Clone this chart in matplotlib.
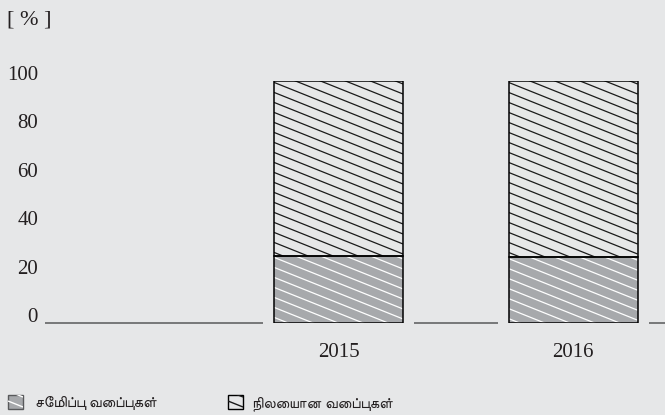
import matplotlib
matplotlib.use('Agg')
import matplotlib.pyplot as plt
from matplotlib import font_manager
from matplotlib.patches import Rectangle
from matplotlib.lines import Line2D
from matplotlib.transforms import Affine2D, blended_transform_factory, offset_copy
import numpy as np

# ---------------- data ----------------
years = ['2015', '2016']
savings_deposits = [27.7, 27.2]
fixed_deposits = [72.3, 72.8]
ytick_values = [0, 20, 40, 60, 80, 100]
legend_labels = ['சேமிப்பு வைப்புகள்', 'நிலையான வைப்புகள்']
unit_label = '[ % ]'

# ---------------- fonts ----------------
def find_font_for(ch):
    try:
        from fontTools.ttLib import TTFont
    except Exception:
        return None
    cands = []
    for fe in font_manager.fontManager.ttflist:
        try:
            f = TTFont(fe.fname, fontNumber=0, lazy=True)
            cmap = f.getBestCmap()
            if cmap and ord(ch) in cmap:
                cands.append(fe.name)
        except Exception:
            pass
    if not cands:
        return None
    cands.sort(key=lambda n: (0 if 'Sans' in n else 1, n))
    return cands[0]

tamil_font = find_font_for('ச')
tamil_family = [tamil_font, 'DejaVu Sans'] if tamil_font else ['DejaVu Sans']
serif = ['Liberation Serif', 'DejaVu Serif']

# ---------------- figure ----------------
W, H = 665, 415
BG = '#e6e7e8'
GRAY = '#a7a9ac'
TXT = '#231f20'
fig = plt.figure(figsize=(W / 100, H / 100), dpi=100)
fig.patch.set_facecolor(BG)

ax_left, ax_right, y_zero, y_hundred = 45, 665, 323, 81
ax = fig.add_axes([ax_left / W, (H - y_zero) / H, (ax_right - ax_left) / W,
                   (y_zero - y_hundred) / H])
ax.set_facecolor(BG)
ax.autoscale(False)
xpos = np.arange(len(years))
bar_w = 0.55
ax.set_xlim(-1.2516, 1.392)
ax.set_ylim(0, 100)
for s in ax.spines.values():
    s.set_visible(False)
ax.set_xticks([])
ax.set_yticks([])

# pixel (from top-left) transform
PX = Affine2D().scale(1 / W, -1 / H).translate(0, 1) + fig.transFigure


def to_px(xd, yd):
    d = ax.transData.transform((xd, yd))
    return d[0], H - d[1]


def hatch_px(left, top, right, bottom, color, lw, clip, dx=25.0, dy=10.0, phase=0.0, host=None):
    slope = dy / dx
    c = top - slope * (right - left) + phase
    while c < bottom + dy:
        ln = Line2D([left, right], [c, c + slope * (right - left)], transform=PX,
                    color=color, lw=lw, solid_capstyle='butt', zorder=2)
        if host is None:
            ax.add_line(ln)
        else:
            host.add_artist(ln)
        ln.set_clip_path(clip)
        c += dy


b_low = ax.bar(xpos, savings_deposits, bar_w, color=GRAY, linewidth=0, zorder=1)
b_up = ax.bar(xpos, fixed_deposits, bar_w, bottom=savings_deposits, color=BG, linewidth=0, zorder=1)

for rects, col in ((b_low, 'white'), (b_up, '#1a1a1a')):
    for r in rects:
        l, t = to_px(r.get_x(), r.get_y() + r.get_height())
        rr, b = to_px(r.get_x() + r.get_width(), r.get_y())
        hatch_px(l, t, rr, b, col, 0.9, r, phase=3)

ax.bar(xpos, savings_deposits, bar_w, fill=False, edgecolor='black', linewidth=1.1, zorder=3)
ax.bar(xpos, fixed_deposits, bar_w, bottom=savings_deposits, fill=False,
       edgecolor='black', linewidth=1.1, zorder=3)

# broken baseline
pxx = ax.transData.transform((1, 0))[0] - ax.transData.transform((0, 0))[0]
gap = 11 / pxx
xl0, xl1 = ax.get_xlim()
edges = [xl0]
for xp in xpos:
    edges += [xp - bar_w / 2 - gap, xp + bar_w / 2 + gap]
edges.append(xl1)
for a, b in zip(edges[0::2], edges[1::2]):
    ax.plot([a, b], [0, 0], color='#58595b', lw=1.1, clip_on=False, zorder=2,
            solid_capstyle='butt')

# y labels
ytrans = offset_copy(blended_transform_factory(ax.transAxes, ax.transData), fig=fig,
                     x=-7, y=1, units='dots')
for v in ytick_values:
    ax.text(0, v, f'{v}', transform=ytrans, ha='right', va='baseline',
            fontsize=15, family=serif, color=TXT)

# x labels
xtrans = offset_copy(ax.transData, fig=fig, x=0, y=-34, units='dots')
for xp, yr in zip(xpos, years):
    ax.text(xp, 0, yr, transform=xtrans, ha='center', va='baseline',
            fontsize=15, family=serif, color=TXT)

fig.text(7 / W, 1 - 24 / H, unit_label, ha='left', va='baseline', fontsize=16,
         family=serif, color=TXT)

# legend (manual)
leg_items = [(8, GRAY, 'white', '#58595b', 35), (228, BG, '#1a1a1a', 'black', 252)]
for (sx, fc, hc, ec, tx), lab in zip(leg_items, legend_labels):
    sq = Rectangle((sx, 395), 15, 14, transform=PX, facecolor=fc, edgecolor='none')
    fig.add_artist(sq)
    hatch_px(sx, 395, sx + 15, 409, hc, 1.0, sq, dx=25, dy=10, phase=2, host=fig)
    fig.add_artist(Rectangle((sx, 395), 15, 14, transform=PX, fill=False,
                             edgecolor=ec, lw=1.0))
    fig.text(tx / W, 1 - 407 / H, lab, ha='left', va='baseline', fontsize=11,
             family=tamil_family, color=TXT)

fig.savefig('out.png', dpi=100, facecolor=BG)
